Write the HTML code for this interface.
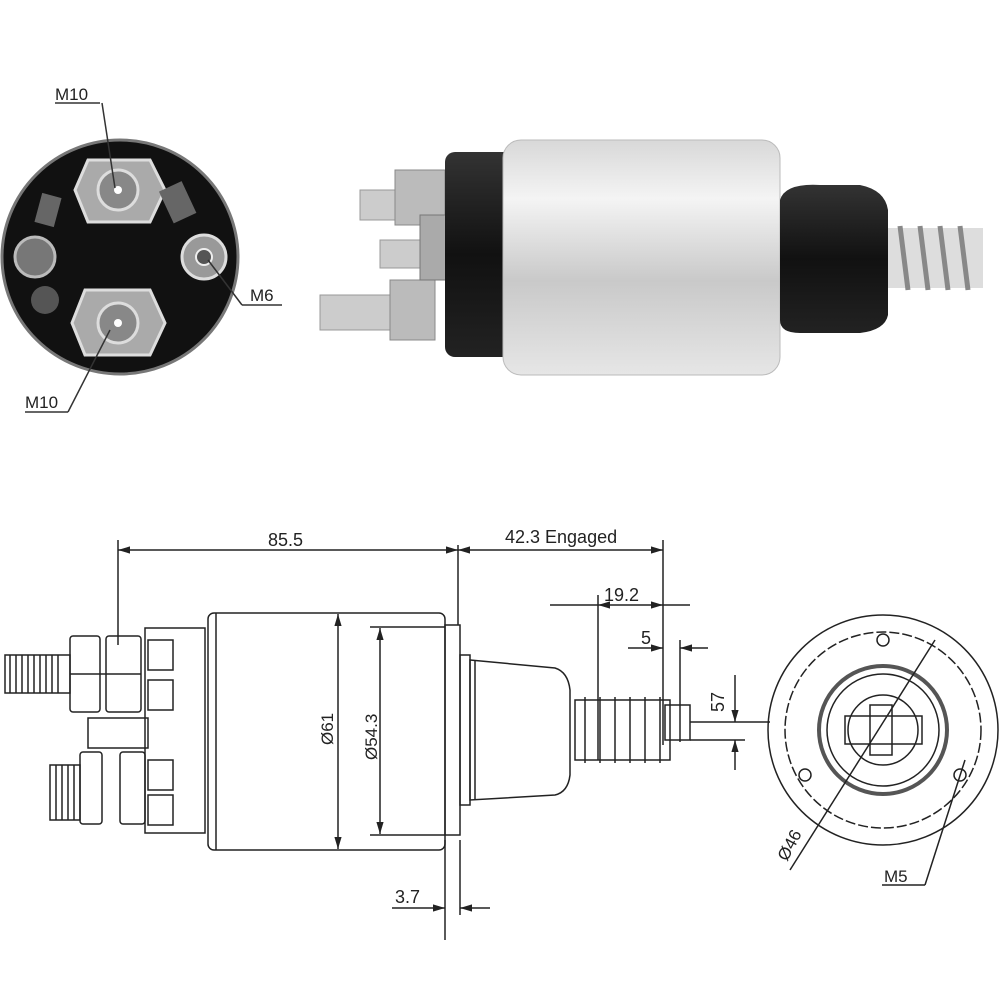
<!DOCTYPE html>
<html><head><meta charset="utf-8"><style>
html,body{margin:0;padding:0;background:#fff}
svg{display:block}
text{font-family:"Liberation Sans",sans-serif;fill:#222}
</style></head><body>
<svg width="1000" height="1000" viewBox="0 0 1000 1000" xmlns="http://www.w3.org/2000/svg">
<defs>
<linearGradient id="silver" x1="0" y1="0" x2="0" y2="1">
<stop offset="0" stop-color="#d8d8d8"/><stop offset="0.25" stop-color="#f4f4f4"/><stop offset="0.6" stop-color="#c9c9c9"/><stop offset="1" stop-color="#e6e6e6"/></linearGradient>
<linearGradient id="blk" x1="0" y1="0" x2="0" y2="1">
<stop offset="0" stop-color="#333"/><stop offset="0.5" stop-color="#111"/><stop offset="1" stop-color="#222"/></linearGradient>
<marker id="ar" viewBox="0 0 10 10" refX="10" refY="5" markerWidth="8" markerHeight="8" orient="auto-start-reverse"><path d="M0,2 L10,5 L0,8z" fill="#222"/></marker>
</defs>

<!-- ===== top left end view ===== -->
<ellipse cx="120" cy="257" rx="118" ry="117" fill="#111" stroke="#777" stroke-width="3"/>
<polygon points="88,160 150,160 165,190 150,222 88,222 75,190" fill="#aaa" stroke="#ddd" stroke-width="3"/>
<circle cx="118" cy="190" r="20" fill="#888" stroke="#ddd" stroke-width="3"/>
<circle cx="118" cy="190" r="4" fill="#fff"/>
<polygon points="85,290 150,290 165,323 150,355 85,355 72,323" fill="#aaa" stroke="#ddd" stroke-width="3"/>
<circle cx="118" cy="323" r="20" fill="#888" stroke="#ddd" stroke-width="3"/>
<circle cx="118" cy="323" r="4" fill="#fff"/>
<circle cx="204" cy="257" r="22" fill="#999" stroke="#ddd" stroke-width="3"/>
<circle cx="204" cy="257" r="8" fill="#555" stroke="#eee" stroke-width="2"/>
<circle cx="35" cy="257" r="20" fill="#777" stroke="#bbb" stroke-width="3"/>
<rect x="38" y="195" width="20" height="30" fill="#666" transform="rotate(15 48 210)"/>
<rect x="165" y="185" width="25" height="35" fill="#666" transform="rotate(-25 177 202)"/>
<circle cx="45" cy="300" r="14" fill="#555"/>
<line x1="102" y1="103" x2="115" y2="188" stroke="#333" stroke-width="1.5"/>
<line x1="55" y1="103" x2="100" y2="103" stroke="#333" stroke-width="1.5"/>
<text x="55" y="100" font-size="17">M10</text>
<line x1="208" y1="260" x2="242" y2="305" stroke="#333" stroke-width="1.5"/>
<line x1="242" y1="305" x2="282" y2="305" stroke="#333" stroke-width="1.5"/>
<text x="250" y="301" font-size="17">M6</text>
<line x1="110" y1="330" x2="68" y2="412" stroke="#333" stroke-width="1.5"/>
<line x1="25" y1="412" x2="68" y2="412" stroke="#333" stroke-width="1.5"/>
<text x="25" y="408" font-size="17">M10</text>

<!-- ===== top right photo ===== -->
<rect x="320" y="295" width="75" height="35" fill="#ccc" stroke="#999"/>
<rect x="360" y="190" width="50" height="30" fill="#ccc" stroke="#999"/>
<rect x="380" y="240" width="40" height="28" fill="#ccc" stroke="#999"/>
<rect x="390" y="280" width="45" height="60" fill="#bbb" stroke="#888"/>
<rect x="395" y="170" width="50" height="55" fill="#bbb" stroke="#888"/>
<rect x="420" y="215" width="40" height="65" fill="#aaa" stroke="#777"/>
<rect x="445" y="152" width="70" height="205" rx="10" fill="url(#blk)"/>
<rect x="503" y="140" width="277" height="235" rx="18" fill="url(#silver)" stroke="#bbb"/>
<path d="M780,200 Q785,183 820,185 L860,185 Q885,190 888,210 L888,315 Q885,330 860,333 L800,333 Q780,333 780,320z" fill="url(#blk)"/>
<rect x="888" y="228" width="95" height="60" fill="#ddd"/>
<g stroke="#888" stroke-width="5" fill="none">
<path d="M900,226 l8,64 M920,226 l8,64 M940,226 l8,64 M960,226 l8,64"/></g>

<!-- ===== bottom drawing ===== -->
<g stroke="#222" stroke-width="1.5" fill="none">
<!-- 85.5 -->
<line x1="118" y1="540" x2="118" y2="645"/>
<line x1="118" y1="550" x2="458" y2="550" marker-start="url(#ar)" marker-end="url(#ar)"/>
<line x1="458" y1="550" x2="663" y2="550" marker-start="url(#ar)" marker-end="url(#ar)"/>
<line x1="458" y1="545" x2="458" y2="625"/>
<line x1="663" y1="540" x2="663" y2="745"/>
<!-- left studs -->
<rect x="5" y="655" width="65" height="38"/>
<path d="M10,655v38M16,655v38M22,655v38M28,655v38M34,655v38M40,655v38M46,655v38M52,655v38M58,655v38"/>
<rect x="70" y="636" width="30" height="76" rx="3"/>
<rect x="106" y="636" width="35" height="76" rx="3"/>
<line x1="70" y1="674" x2="141" y2="674"/>
<rect x="50" y="765" width="30" height="55"/>
<path d="M56,765v55M62,765v55M68,765v55M74,765v55"/>
<rect x="80" y="752" width="22" height="72" rx="3"/>
<rect x="120" y="752" width="25" height="72" rx="3"/>
<rect x="88" y="718" width="60" height="30"/>
<!-- flange -->
<rect x="145" y="628" width="60" height="205"/>
<path d="M148,640h25v30h-25zM148,680h25v30h-25zM148,760h25v30h-25zM148,795h25v30h-25z"/>
<!-- body -->
<rect x="208" y="613" width="237" height="237" rx="6"/>
<line x1="216" y1="613" x2="216" y2="850"/>
<rect x="445" y="625" width="15" height="210"/>
<rect x="460" y="655" width="10" height="150"/>
<!-- Ø61 Ø54.3 -->
<line x1="338" y1="614" x2="338" y2="849" marker-start="url(#ar)" marker-end="url(#ar)"/>
<line x1="370" y1="627" x2="445" y2="627"/>
<line x1="370" y1="835" x2="445" y2="835"/>
<line x1="380" y1="628" x2="380" y2="834" marker-start="url(#ar)" marker-end="url(#ar)"/>
<!-- 3.7 -->
<line x1="445" y1="840" x2="445" y2="940"/>
<line x1="460" y1="840" x2="460" y2="915"/>
<line x1="392" y1="908" x2="445" y2="908" marker-end="url(#ar)"/>
<line x1="460" y1="908" x2="490" y2="908" marker-start="url(#ar)"/>
<!-- nose -->
<path d="M470,660 L555,668 Q568,672 570,690 L570,775 Q568,792 555,795 L470,800z"/>
<line x1="475" y1="660" x2="475" y2="800"/>
<!-- spring -->
<rect x="575" y="700" width="95" height="60"/>
<path d="M585,697v66M600,697v66M615,697v66M630,697v66M645,697v66M660,697v66"/>
<rect x="665" y="705" width="25" height="35"/>
<line x1="690" y1="722" x2="770" y2="722"/>
<!-- 19.2 -->
<line x1="550" y1="605" x2="598" y2="605"/>
<line x1="598" y1="605" x2="663" y2="605" marker-start="url(#ar)" marker-end="url(#ar)"/>
<line x1="663" y1="605" x2="690" y2="605"/>
<line x1="598" y1="595" x2="598" y2="760"/>
<!-- 5 -->
<line x1="628" y1="648" x2="663" y2="648" marker-end="url(#ar)"/>
<line x1="680" y1="648" x2="708" y2="648" marker-start="url(#ar)"/>
<line x1="680" y1="640" x2="680" y2="742"/>
<!-- 57 -->
<line x1="690" y1="740" x2="745" y2="740"/>
<line x1="735" y1="675" x2="735" y2="722" marker-end="url(#ar)"/>
<line x1="735" y1="740" x2="735" y2="770" marker-start="url(#ar)"/>
<!-- end view circle -->
<circle cx="883" cy="730" r="115"/>
<circle cx="883" cy="730" r="98" stroke-dasharray="10,3"/>
<circle cx="883" cy="730" r="64" stroke-width="4" stroke="#555"/>
<circle cx="883" cy="730" r="56"/>
<circle cx="883" cy="730" r="35"/>
<rect x="845" y="716" width="77" height="28"/>
<rect x="870" y="705" width="22" height="50"/>
<circle cx="883" cy="640" r="6"/>
<circle cx="805" cy="775" r="6"/>
<circle cx="960" cy="775" r="6"/>
<line x1="935" y1="640" x2="790" y2="870"/>
<line x1="965" y1="760" x2="925" y2="885"/>
<line x1="882" y1="885" x2="925" y2="885"/>
</g>
<text x="268" y="546" font-size="18">85.5</text>
<text x="505" y="543" font-size="18">42.3 Engaged</text>
<text x="604" y="601" font-size="18">19.2</text>
<text x="641" y="644" font-size="18">5</text>
<text x="395" y="903" font-size="18">3.7</text>
<text font-size="18" transform="translate(724,712) rotate(-90)">57</text>
<text font-size="17" transform="translate(333,745) rotate(-90)">Ø61</text>
<text font-size="17" transform="translate(377,760) rotate(-90)">Ø54.3</text>
<text font-size="17" transform="translate(787,862) rotate(-62)">Ø46</text>
<text x="884" y="882" font-size="17">M5</text>
</svg>
</body></html>
